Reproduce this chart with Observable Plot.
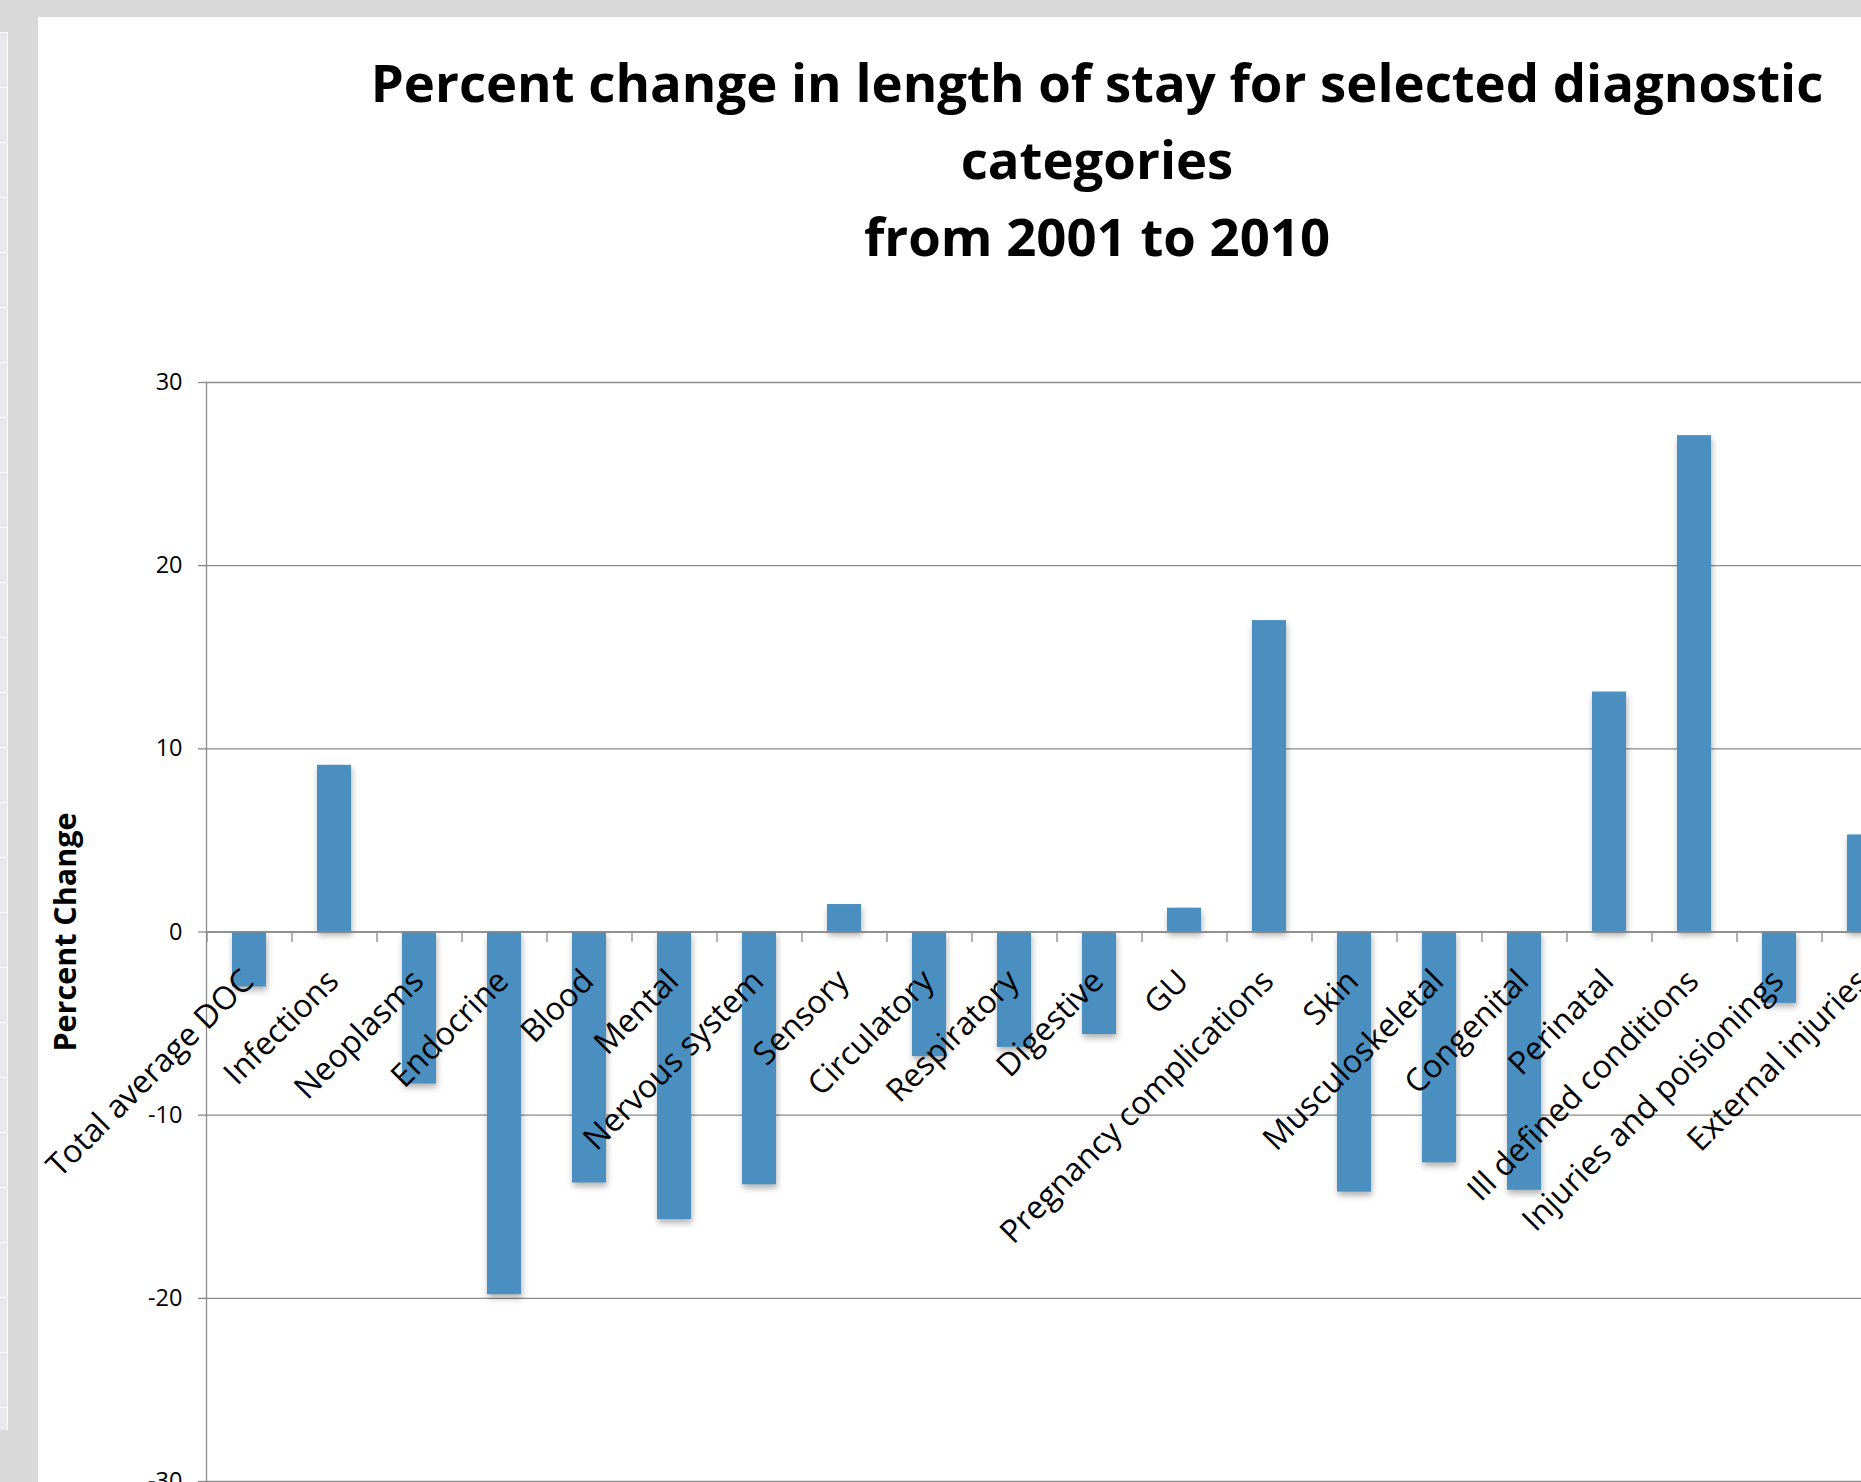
<!DOCTYPE html>
<html>
<head>
<meta charset="utf-8">
<script src="https://cdn.jsdelivr.net/npm/d3@7"></script>
<script src="https://cdn.jsdelivr.net/npm/@observablehq/plot@0.6"></script>
<style>
  html, body { margin: 0; padding: 0; width: 1861px; height: 1482px; overflow: hidden; background: #d9d9d9; font-family: "Open Sans", sans-serif; }
  #strip { position: absolute; left: 0; top: 32px; width: 7px; height: 1398px; background-color: #e9e8ee;
           background-image: repeating-linear-gradient(to bottom, #ffffff 0px, #ffffff 1px, transparent 1px, transparent 55px);
           border-right: 1px solid #ffffff; }
  #chart { position: absolute; left: 38px; top: 17px; width: 2200px; height: 1500px; background: #ffffff; overflow: hidden; }
  #title { position: absolute; left: 0; top: 26px; width: 2118px; text-align: center; font-weight: 700; font-size: 52.7px; line-height: 77px; color: #000; }
  #plot { position: absolute; left: 0; top: 300px; }
</style>
</head>
<body>
<div id="strip"></div>
<div id="chart">
  <div id="title">Percent change in length of stay for selected diagnostic<br>categories<br>from 2001 to 2010</div>
  <div id="plot"></div>
</div>
<script>
const categories = ["Total average DOC", "Infections", "Neoplasms", "Endocrine", "Blood", "Mental", "Nervous system", "Sensory", "Circulatory", "Respiratory", "Digestive", "GU", "Pregnancy complications", "Skin", "Musculoskeletal", "Congenital", "Perinatal", "Ill defined conditions", "Injuries and poisionings", "External injuries"];
const values = [-3.0, 9.1, -8.3, -19.8, -13.7, -15.7, -13.8, 1.5, -6.8, -6.3, -5.6, 1.3, 17.0, -14.2, -12.6, -14.1, 13.1, 27.1, -3.9, 5.3];
const yTicks = [-30, -20, -10, 0, 10, 20, 30];
const yLabel = "Percent Change";

const rows = categories.map((c, i) => ({category: c, value: values[i]}));
const grey = "#8a8a8a";

const chart = Plot.plot({
  width: 2100,
  height: 1200,
  marginLeft: 168,
  marginRight: 232,
  marginTop: 65,
  marginBottom: 36,
  style: "max-width:none; overflow:visible; background:transparent; color:#000; font-family:'Open Sans', sans-serif;",
  x: {domain: categories, paddingInner: 0.6, paddingOuter: 0.3, axis: null},
  y: {domain: [-30, 30], axis: null},
  marks: [
    Plot.gridY(yTicks, {stroke: grey, strokeOpacity: 1, strokeWidth: 1.3}),
    Plot.frame({anchor: "left", stroke: grey, strokeWidth: 1.3}),
    Plot.axisY({ticks: yTicks, tickSize: 8, tickPadding: 16, tickFormat: d => String(d), fontSize: 23.5, stroke: grey, strokeWidth: 1.3, label: null}),
    Plot.barY(rows, {x: "category", y: "value", fill: "#4A8FC0"}),
    Plot.ruleY([0], {stroke: grey, strokeWidth: 1.3}),
    Plot.ruleX(rows, {x: "category", y1: () => 0, y2: () => 0, insetBottom: -10.5, dx: -42.5, stroke: grey, strokeWidth: 1.3}),
    Plot.text(rows, {x: "category", y: () => 0, text: "category", rotate: -45, textAnchor: "end", lineAnchor: "bottom", dx: 6, dy: 51, fontSize: 32, fill: "#000"}),
    Plot.text([yLabel], {frameAnchor: "left", text: d => d, rotate: -90, textAnchor: "middle", lineAnchor: "top", dx: -152, fontSize: 30.5, fontWeight: "bold", fill: "#000"})
  ]
});
document.getElementById("plot").appendChild(chart);
const bars = chart.querySelector('g[aria-label="bar"]');
if (bars) bars.style.filter = "drop-shadow(1px 4px 3px rgba(0,0,0,0.30))";
</script>
</body>
</html>
